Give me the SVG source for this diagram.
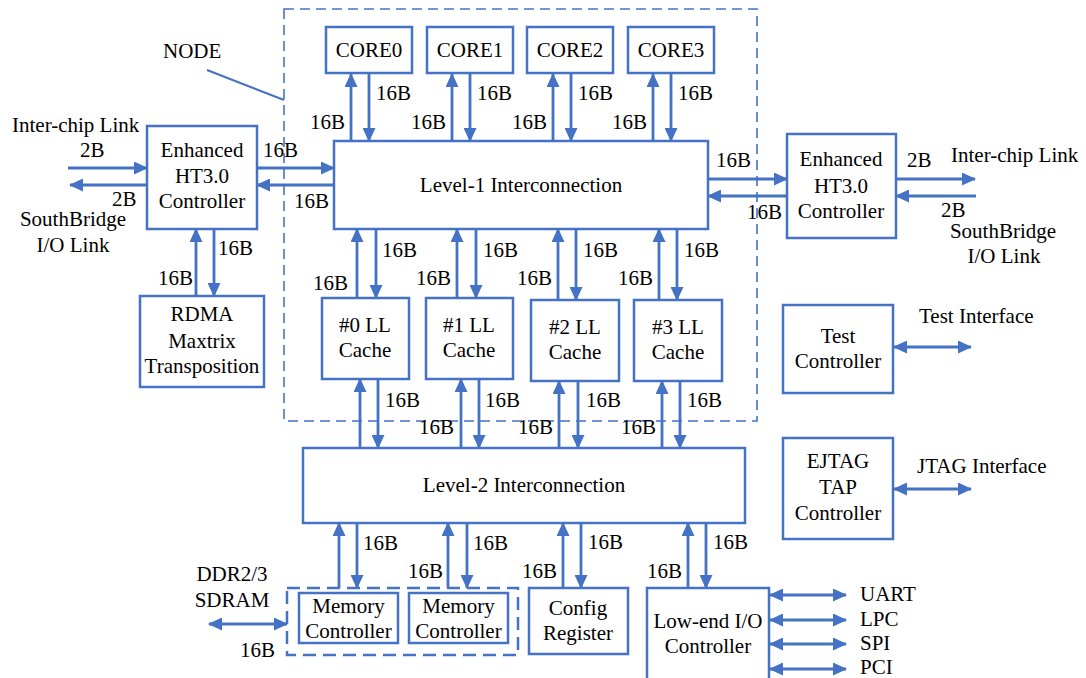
<svg xmlns="http://www.w3.org/2000/svg" width="1086" height="678" viewBox="0 0 1086 678">
<defs>
<style>
.box{fill:#fff;stroke:#4472C4;stroke-width:2.5}
.t{font-family:"Liberation Serif","Times New Roman",serif;font-size:21px;fill:#000}
.c{text-anchor:middle}
.e{text-anchor:end}
.ln{stroke:#4472C4;stroke-width:2.8;fill:none}
.dash{stroke:#4472C4;stroke-width:1.6;fill:none;stroke-dasharray:10 6}
.dash2{stroke:#4472C4;stroke-width:2.5;fill:none;stroke-dasharray:13 7}
.a{marker-end:url(#ah)}
.d{marker-start:url(#ah);marker-end:url(#ah)}
</style>
<marker id="ah" markerUnits="userSpaceOnUse" markerWidth="14" markerHeight="13" refX="13" refY="6.5" orient="auto-start-reverse" viewBox="0 0 14 13">
<path d="M0,0 L14,6.5 L0,13 z" fill="#4472C4"/>
</marker>
</defs>
<rect width="1086" height="678" fill="#fff"/>

<g id="node-boundary">
<rect class="dash" x="284" y="9" width="473" height="412"/>
<line class="ln" x1="207" y1="70" x2="284" y2="100" style="stroke-width:2"/>
<text class="t" x="163" y="58">NODE</text>
</g>

<g id="connectors">
<line class="ln a" x1="351" y1="141" x2="351" y2="74"/>
<line class="ln a" x1="369" y1="74" x2="369" y2="141"/>
<line class="ln a" x1="452" y1="141" x2="452" y2="74"/>
<line class="ln a" x1="470" y1="74" x2="470" y2="141"/>
<line class="ln a" x1="553" y1="141" x2="553" y2="74"/>
<line class="ln a" x1="571" y1="74" x2="571" y2="141"/>
<line class="ln a" x1="653" y1="141" x2="653" y2="74"/>
<line class="ln a" x1="671" y1="74" x2="671" y2="141"/>
<line class="ln a" x1="257" y1="168" x2="334" y2="168"/>
<line class="ln a" x1="334" y1="185" x2="257" y2="185"/>
<line class="ln a" x1="68" y1="168" x2="147" y2="168"/>
<line class="ln a" x1="147" y1="185" x2="70" y2="185"/>
<line class="ln a" x1="196" y1="296" x2="196" y2="229"/>
<line class="ln a" x1="214" y1="229" x2="214" y2="296"/>
<line class="ln a" x1="708" y1="179" x2="787" y2="179"/>
<line class="ln a" x1="787" y1="196" x2="708" y2="196"/>
<line class="ln a" x1="896" y1="179" x2="975" y2="179"/>
<line class="ln a" x1="976" y1="196" x2="896" y2="196"/>
<line class="ln a" x1="357" y1="298" x2="357" y2="229"/>
<line class="ln a" x1="376" y1="229" x2="376" y2="298"/>
<line class="ln a" x1="457" y1="298" x2="457" y2="229"/>
<line class="ln a" x1="476" y1="229" x2="476" y2="298"/>
<line class="ln a" x1="558" y1="300" x2="558" y2="229"/>
<line class="ln a" x1="576" y1="229" x2="576" y2="300"/>
<line class="ln a" x1="659" y1="300" x2="659" y2="229"/>
<line class="ln a" x1="677" y1="229" x2="677" y2="300"/>
<line class="ln a" x1="360" y1="448" x2="360" y2="379"/>
<line class="ln a" x1="378" y1="379" x2="378" y2="448"/>
<line class="ln a" x1="461" y1="448" x2="461" y2="379"/>
<line class="ln a" x1="479" y1="379" x2="479" y2="448"/>
<line class="ln a" x1="559" y1="448" x2="559" y2="381"/>
<line class="ln a" x1="578" y1="381" x2="578" y2="448"/>
<line class="ln a" x1="662" y1="448" x2="662" y2="381"/>
<line class="ln a" x1="680" y1="381" x2="680" y2="448"/>
<line class="ln a" x1="339" y1="588" x2="339" y2="523"/>
<line class="ln a" x1="357" y1="523" x2="357" y2="588"/>
<line class="ln a" x1="448" y1="588" x2="448" y2="523"/>
<line class="ln a" x1="467" y1="523" x2="467" y2="588"/>
<line class="ln d" x1="209" y1="624" x2="287" y2="624"/>
<line class="ln a" x1="563" y1="588" x2="563" y2="523"/>
<line class="ln a" x1="581" y1="523" x2="581" y2="588"/>
<line class="ln a" x1="688" y1="588" x2="688" y2="523"/>
<line class="ln a" x1="706" y1="523" x2="706" y2="588"/>
<line class="ln d" x1="770" y1="595" x2="846" y2="595"/>
<line class="ln d" x1="770" y1="620" x2="846" y2="620"/>
<line class="ln d" x1="770" y1="644" x2="846" y2="644"/>
<line class="ln d" x1="770" y1="669" x2="846" y2="669"/>
<line class="ln d" x1="894" y1="347" x2="971" y2="347"/>
<line class="ln d" x1="894" y1="489" x2="971" y2="489"/>
</g>

<g id="labels">
<text class="t" x="376" y="100">16B</text>
<text class="t e" x="345" y="129">16B</text>
<text class="t" x="477" y="100">16B</text>
<text class="t e" x="446" y="129">16B</text>
<text class="t" x="578" y="100">16B</text>
<text class="t e" x="547" y="129">16B</text>
<text class="t" x="678" y="100">16B</text>
<text class="t e" x="647" y="129">16B</text>

<text class="t" x="263" y="157">16B</text>
<text class="t e" x="329" y="208">16B</text>
<text class="t" x="12" y="132">Inter-chip Link</text>
<text class="t" x="80" y="157">2B</text>
<text class="t" x="112" y="206">2B</text>
<text class="t c" x="73" y="226">SouthBridge</text>
<text class="t c" x="73" y="252">I/O Link</text>
<text class="t" x="218" y="255">16B</text>
<text class="t e" x="193" y="285">16B</text>

<text class="t" x="716" y="167">16B</text>
<text class="t e" x="782" y="219">16B</text>
<text class="t" x="907" y="167">2B</text>
<text class="t" x="951" y="162">Inter-chip Link</text>
<text class="t" x="941" y="217">2B</text>
<text class="t c" x="1003" y="238">SouthBridge</text>
<text class="t c" x="1004" y="263">I/O Link</text>

<text class="t" x="382" y="257">16B</text>
<text class="t e" x="348" y="290">16B</text>
<text class="t" x="483" y="257">16B</text>
<text class="t e" x="451" y="285">16B</text>
<text class="t" x="583" y="257">16B</text>
<text class="t e" x="552" y="285">16B</text>
<text class="t" x="684" y="257">16B</text>
<text class="t e" x="653" y="285">16B</text>

<text class="t" x="385" y="407">16B</text>
<text class="t" x="485" y="407">16B</text>
<text class="t e" x="454" y="434">16B</text>
<text class="t" x="586" y="407">16B</text>
<text class="t e" x="553" y="434">16B</text>
<text class="t" x="687" y="407">16B</text>
<text class="t e" x="656" y="434">16B</text>

<text class="t" x="363" y="550">16B</text>
<text class="t e" x="443" y="578">16B</text>
<text class="t" x="473" y="550">16B</text>
<text class="t" x="588" y="549">16B</text>
<text class="t e" x="557" y="578">16B</text>
<text class="t" x="713" y="549">16B</text>
<text class="t e" x="682" y="578">16B</text>

<text class="t c" x="232" y="581">DDR2/3</text>
<text class="t c" x="232" y="607">SDRAM</text>
<text class="t" x="240" y="657">16B</text>

<text class="t" x="860" y="601">UART</text>
<text class="t" x="860" y="626">LPC</text>
<text class="t" x="860" y="650">SPI</text>
<text class="t" x="860" y="674">PCI</text>

<text class="t" x="919" y="323">Test Interface</text>
<text class="t" x="917" y="473">JTAG Interface</text>
</g>

<g id="core0"><rect class="box" x="326" y="27" width="86" height="46"/><text class="t c" x="369" y="57">CORE0</text></g>
<g id="core1"><rect class="box" x="427" y="27" width="86" height="46"/><text class="t c" x="470" y="57">CORE1</text></g>
<g id="core2"><rect class="box" x="527" y="27" width="86" height="46"/><text class="t c" x="570" y="57">CORE2</text></g>
<g id="core3"><rect class="box" x="628" y="27" width="86" height="46"/><text class="t c" x="671" y="57">CORE3</text></g>

<g id="level1"><rect class="box" x="334" y="141" width="374" height="88"/><text class="t c" x="521" y="192">Level-1 Interconnection</text></g>

<g id="ht-left"><rect class="box" x="147" y="126" width="110" height="103"/>
<text class="t c" x="202" y="157">Enhanced</text><text class="t c" x="202" y="183">HT3.0</text><text class="t c" x="202" y="208">Controller</text></g>

<g id="ht-right"><rect class="box" x="787" y="134" width="109" height="104"/>
<text class="t c" x="841" y="166">Enhanced</text><text class="t c" x="841" y="193">HT3.0</text><text class="t c" x="841" y="218">Controller</text></g>

<g id="rdma"><rect class="box" x="140" y="296" width="124" height="91"/>
<text class="t c" x="202" y="321">RDMA</text><text class="t c" x="202" y="348">Maxtrix</text><text class="t c" x="202" y="373">Transposition</text></g>

<g id="cache0"><rect class="box" x="322" y="298" width="87" height="81"/><text class="t c" x="365" y="332">#0 LL</text><text class="t c" x="365" y="357">Cache</text></g>
<g id="cache1"><rect class="box" x="426" y="298" width="87" height="81"/><text class="t c" x="469" y="332">#1 LL</text><text class="t c" x="469" y="357">Cache</text></g>
<g id="cache2"><rect class="box" x="531" y="300" width="88" height="81"/><text class="t c" x="575" y="334">#2 LL</text><text class="t c" x="575" y="359">Cache</text></g>
<g id="cache3"><rect class="box" x="634" y="300" width="88" height="81"/><text class="t c" x="678" y="334">#3 LL</text><text class="t c" x="678" y="359">Cache</text></g>

<g id="test"><rect class="box" x="783" y="305" width="110" height="88"/><text class="t c" x="838" y="343">Test</text><text class="t c" x="838" y="368">Controller</text></g>
<g id="ejtag"><rect class="box" x="783" y="438" width="110" height="101"/><text class="t c" x="838" y="468">EJTAG</text><text class="t c" x="838" y="494">TAP</text><text class="t c" x="838" y="520">Controller</text></g>

<g id="level2"><rect class="box" x="303" y="448" width="442" height="75"/><text class="t c" x="524" y="492">Level-2 Interconnection</text></g>

<g id="memory">
<rect class="dash2" x="287" y="588" width="231" height="67"/>
<g id="mc0"><rect class="box" x="299" y="593" width="99" height="50"/><text class="t c" x="348.5" y="613">Memory</text><text class="t c" x="348.5" y="638">Controller</text></g>
<g id="mc1"><rect class="box" x="409" y="593" width="99" height="50"/><text class="t c" x="458.5" y="613">Memory</text><text class="t c" x="458.5" y="638">Controller</text></g>
</g>

<g id="config"><rect class="box" x="529" y="588" width="99" height="66"/><text class="t c" x="578" y="615">Config</text><text class="t c" x="578" y="640">Register</text></g>

<g id="lowend"><rect class="box" x="647" y="588" width="122" height="110"/><text class="t c" x="708" y="628">Low-end I/O</text><text class="t c" x="708" y="653">Controller</text></g>
</svg>
